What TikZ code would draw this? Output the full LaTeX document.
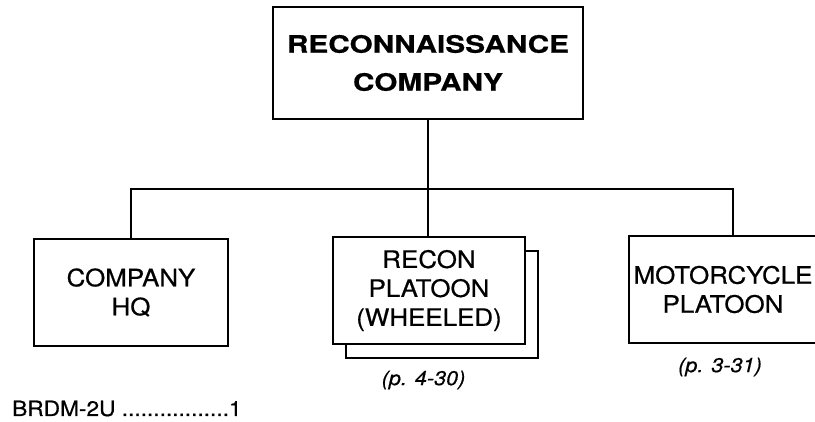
\documentclass[tikz,border=0pt]{standalone}
\usepackage{fontspec}
\setmainfont{TeX Gyre Heros}[FakeStretch=1.08, FakeBold=0.6]
\newfontfamily\titlefont{TeX Gyre Heros}[FakeStretch=1.24, FakeBold=0.6]
\usetikzlibrary{positioning}
\tikzset{
  % ---- boxes ------------------------------------------------------------
  orgbox/.style={
    draw=black, line width=2pt, fill=white, inner sep=0pt,
    minimum height=107pt, align=center,
    font=\fontsize{24}{29}\selectfont},
  orgtitle/.style={orgbox, minimum width=310pt, minimum height=112pt,
    font=\titlefont\bfseries\fontsize{24}{38}\selectfont},
  orgref/.style={font=\itshape\fontsize{20}{24}\selectfont, inner sep=0pt},
  orgnote/.style={font=\fontsize{21}{25}\selectfont, inner sep=0pt},
  % ---- connections ------------------------------------------------------
  orgline/.style={draw=black, line width=2pt},
}
\begin{document}
\begin{tikzpicture}[x=1pt, y=-1pt]
\useasboundingbox (0,0) rectangle (815,422);
\clip (0,0) rectangle (815,422);

% ---- top --------------------------------------------------------------
\node[orgtitle] (coy) at (428,63) {RECONNAISSANCE\\COMPANY};

% ---- subordinate elements ---------------------------------------------
\node[orgbox, minimum width=194pt] (hq) at (131,292.5) {COMPANY\\HQ};
\node[orgbox, minimum width=192pt] (reconback) at (442,304.5) {};
\node[orgbox, minimum width=192pt] (recon) at (429,290.5)
  {RECON\\PLATOON\\(WHEELED)};
\node[orgbox, minimum width=188pt] (moto) at (723,289.5)
  {MOTORCYCLE\\PLATOON};

% ---- page references --------------------------------------------------
\node[orgref] (reconref) at (423.5,380) {(p. 4-30)};
\node[orgref] (motoref) at (720,367) {(p. 3-31)};

% ---- equipment ----------------------------------------------------------
\node[orgnote, anchor=base west] (brdm) at (12,416)
  {BRDM-2U .................1};

% ---- lines ------------------------------------------------------------
\coordinate (bus) at (coy.south |- 0,189);
\coordinate (busend) at (733,189);
\draw[orgline] (coy.south) -- (bus);
\draw[orgline] (hq.north) |- (busend) -- (busend |- moto.north);
\draw[orgline] (bus) -- (bus |- recon.north);

\end{tikzpicture}
\end{document}
